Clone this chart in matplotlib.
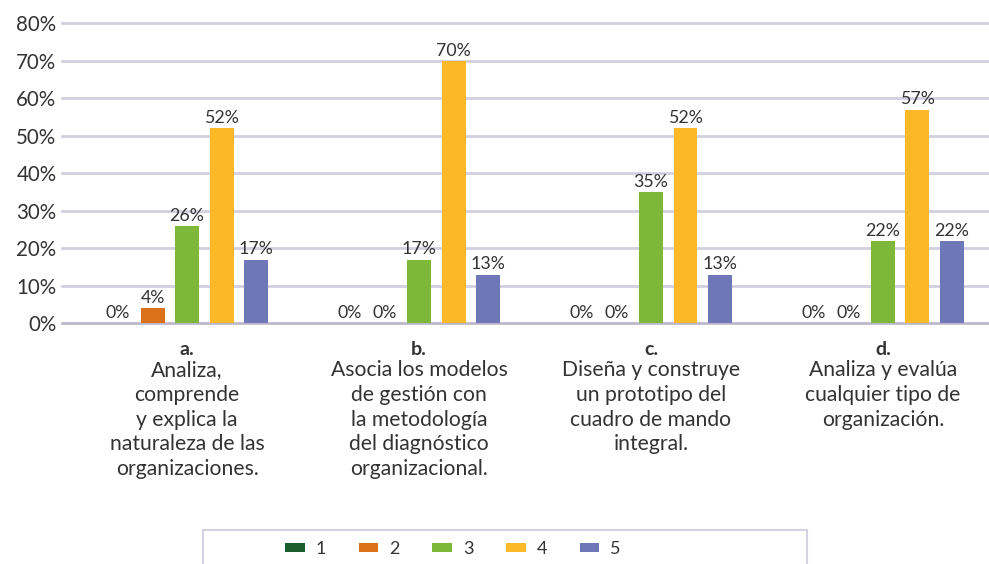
import matplotlib
matplotlib.use("Agg")
import matplotlib.pyplot as plt
import numpy as np
from matplotlib.patches import Rectangle
from matplotlib.transforms import blended_transform_factory

plt.rcParams["font.family"] = ["Lato", "DejaVu Sans"]

letters = ["a.", "b.", "c.", "d."]
descriptions = [
    "Analiza,\ncomprende\ny explica la\nnaturaleza de las\norganizaciones.",
    "Asocia los modelos\nde gestión con\nla metodología\ndel diagnóstico\norganizacional.",
    "Diseña y construye\nun prototipo del\ncuadro de mando\nintegral.",
    "Analiza y evalúa\ncualquier tipo de\norganización.",
]
series_names = ["1", "2", "3", "4", "5"]
series_values = [
    [0, 0, 0, 0],
    [4, 0, 0, 0],
    [26, 17, 35, 22],
    [52, 70, 52, 57],
    [17, 13, 13, 22],
]
series_colors = ["#1b5e2e", "#dc711c", "#7db83a", "#fbb827", "#6e78b9"]
y_ticks = [0, 10, 20, 30, 40, 50, 60, 70, 80]

W, H = 989, 564
fig = plt.figure(figsize=(W / 100, H / 100), dpi=100)
ax = fig.add_axes([62 / W, (H - 323.3) / H, 1 - 62 / W, 300 / H])

text_color = "#333333"
grid_color = "#d2cfdf"

x = np.arange(len(letters))
step = 0.1487
width = 0.1034
for k, (name, vals, col) in enumerate(zip(series_names, series_values, series_colors)):
    pos = x + (k - 2) * step
    ax.bar(pos, vals, width=width, color=col, label=name, zorder=3)
    for px, v in zip(pos, vals):
        ax.annotate(f"{v}%", (px, v), xytext=(0, 1.5), textcoords="offset points",
                    ha="center", va="bottom", fontsize=12.8, color=text_color)

ax.set_xlim(-0.539, 3.457)
ax.set_ylim(0, 80)
ax.set_yticks(y_ticks)
ax.set_yticklabels([f"{t}%" for t in y_ticks], fontsize=14.8, color=text_color)
ax.tick_params(axis="y", length=0, pad=4)
ax.set_xticks([])
for t in y_ticks:
    ax.axhline(t, color=grid_color if t else "#bdb9cd", lw=2, zorder=1, clip_on=False)
for s in ax.spines.values():
    s.set_visible(False)

trans = blended_transform_factory(ax.transData, ax.transAxes)
for i, (let, desc) in enumerate(zip(letters, descriptions)):
    ax.text(i, -26 / 300, let, transform=trans, ha="center", va="center",
            fontsize=14, fontweight="bold", color=text_color)
    ax.text(i, -37 / 300, desc, transform=trans, ha="center", va="top",
            fontsize=15.2, color=text_color, linespacing=1.29)

# legend box, cut off by the bottom edge
fig.patches.append(Rectangle((203 / W, -10 / H), 604 / W, (564 - 530 + 10) / H,
                             transform=fig.transFigure, fill=False,
                             edgecolor="#d4d2e0", lw=1.5))
leg = fig.legend(loc="center left", bbox_to_anchor=(285 / W, (H - 549) / H),
                 ncol=5, frameon=False, fontsize=13, handlelength=1.1,
                 handleheight=0.44, handletextpad=0.6, columnspacing=1.8,
                 borderpad=0, borderaxespad=0)
for txt in leg.get_texts():
    txt.set_color(text_color)

fig.savefig("out.png", dpi=100)
